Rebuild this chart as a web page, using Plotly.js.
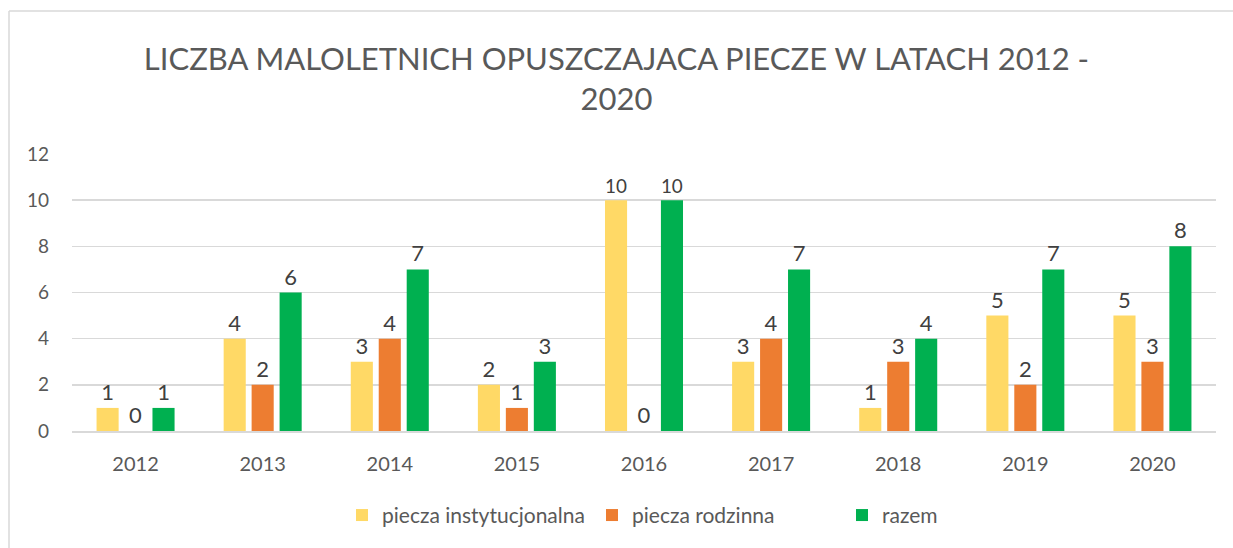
<!DOCTYPE html>
<html>
<head>
<meta charset="utf-8">
<script src="https://cdn.plot.ly/plotly-3.0.1.min.js"></script>
<style>html,body{margin:0;padding:0;background:#fff;}#chart{width:1233px;height:548px;}</style>
</head>
<body>
<div id="chart"></div>
<script>
const years = ['2012','2013','2014','2015','2016','2017','2018','2019','2020'];
const instytucjonalna = [1,4,3,2,10,3,1,5,5];
const rodzinna = [0,2,4,1,0,4,3,2,3];
const razem = [1,6,7,3,10,7,4,7,8];
const seriesNames = ['piecza instytucjonalna','piecza rodzinna','razem'];
const seriesColors = ['#FFD966','#ED7D31','#00B050'];
const yTicks = [0,2,4,6,8,10,12];

const FONT = 'Lato, "Open Sans", sans-serif';
const GREY = '#595959';
const L = 72, R = 17, T = 154, B = 115, W = 1233, H = 548;
const pw = W - L - R, ph = H - T - B;
const px = v => (v - L) / pw;
const py = v => (H - B - v) / ph;

const traces = [instytucjonalna, rodzinna, razem].map((vals, i) => ({
  type: 'bar',
  name: seriesNames[i],
  x: years,
  y: vals,
  marker: {color: seriesColors[i]},
  text: vals.map(String),
  textposition: 'outside',
  cliponaxis: false,
  textfont: {family: FONT, size: 22, color: '#404040'},
  hoverinfo: 'none'
}));

const layout = {
  width: W, height: H,
  margin: {l: L, r: R, t: T, b: B},
  paper_bgcolor: '#fff', plot_bgcolor: '#fff',
  font: {family: FONT, color: GREY},
  title: {
    text: 'LICZBA MALOLETNICH OPUSZCZAJACA PIECZE W LATACH 2012 -<br>2020',
    font: {family: FONT, size: 31, color: GREY},
    x: 0.5, xanchor: 'center', y: 0.872, yanchor: 'top'
  },
  barmode: 'group',
  bargap: 0.34,
  bargroupgap: 0.21,
  xaxis: {
    type: 'category',
    tickfont: {family: FONT, size: 20, color: GREY},
    showgrid: false, zeroline: false,
    showline: true, linecolor: '#d9d9d9', linewidth: 1.5,
    ticks: '', ticklabelstandoff: 14
  },
  yaxis: {
    range: [0, 12], tickvals: yTicks, ticktext: yTicks.map(String),
    tickfont: {family: FONT, size: 19, color: GREY},
    showgrid: true, gridcolor: '#d9d9d9', gridwidth: 1.5,
    zeroline: false, showline: false, ticks: '', ticklabelstandoff: 22
  },
  legend: {
    orientation: 'h', x: px(342), xanchor: 'left', y: py(518), yanchor: 'middle',
    font: {family: FONT, size: 21, color: GREY},
    itemwidth: 30,
    entrywidth: 205, entrywidthmode: 'pixels',
    itemclick: false, itemdoubleclick: false
  },
  shapes: [
    {type: 'line', xref: 'paper', yref: 'paper', x0: px(9), x1: px(1240), y0: py(10), y1: py(10), line: {color: '#d9d9d9', width: 1.5}},
    {type: 'line', xref: 'paper', yref: 'paper', x0: px(9), x1: px(9), y0: py(10), y1: py(560), line: {color: '#d9d9d9', width: 1.5}}
  ],
  showlegend: true
};

Plotly.newPlot('chart', traces, layout, {displayModeBar: false, staticPlot: true});
</script>
</body>
</html>
